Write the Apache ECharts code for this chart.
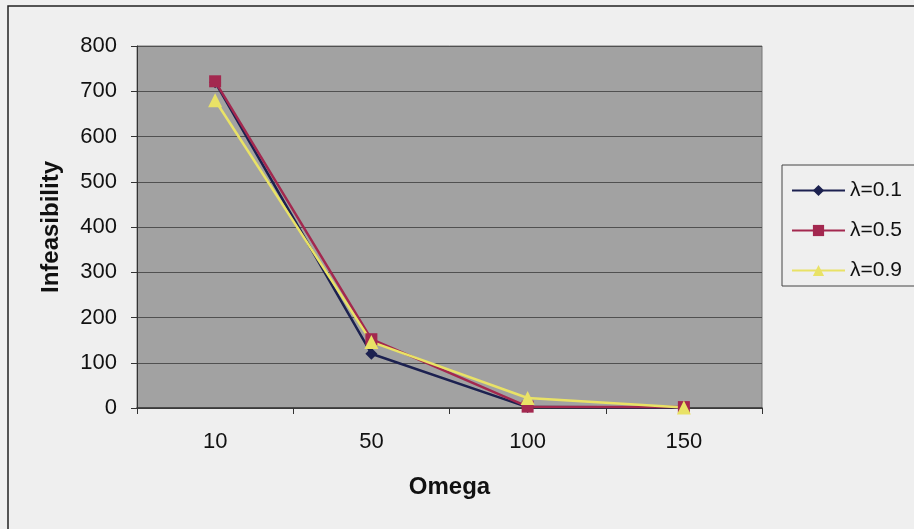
<!DOCTYPE html>
<html>
<head>
<meta charset="utf-8">
<script src="https://cdn.jsdelivr.net/npm/echarts@6/dist/echarts.min.js"></script>
<style>
  html, body { margin: 0; padding: 0; background: #efefef; }
  #chart { width: 914px; height: 529px; }
</style>
</head>
<body>
<div id="chart"></div>
<script>
// Omega settings on the horizontal axis
const omegaValues = ['10', '50', '100', '150'];
// Infeasibility per lambda setting
const seriesNames = ['λ=0.1', 'λ=0.5', 'λ=0.9'];
const lambda01 = [720, 120, 2, 1];
const lambda05 = [722, 152, 3, 2];
const lambda09 = [680, 146, 22, 1];
const yTicks = { min: 0, max: 800, step: 100 };

const chart = echarts.init(document.getElementById('chart'));
const font = '"Liberation Sans", Arial, sans-serif';

function lineSeries(name, data, color, symbol, size) {
  return {
    name: name,
    type: 'line',
    data: data,
    symbol: symbol,
    symbolSize: size,
    lineStyle: { color: color, width: 2.5 },
    itemStyle: { color: color },
    animation: false
  };
}

chart.setOption({
  backgroundColor: '#efefef',
  textStyle: { fontFamily: font },
  graphic: [
    {
      // outer chart frame
      type: 'rect',
      shape: { x: 8, y: 6, width: 920, height: 540 },
      style: { fill: 'none', stroke: '#222', lineWidth: 1.5 },
      silent: true
    },
    {
      // legend frame
      type: 'rect',
      shape: { x: 782, y: 165, width: 150, height: 121 },
      style: { fill: '#efefef', stroke: '#444', lineWidth: 1 },
      silent: true,
      z: 1
    }
  ],
  grid: {
    left: 137, right: 152, top: 46, bottom: 121,
    show: true,
    backgroundColor: '#a2a2a2',
    borderColor: '#777',
    borderWidth: 1
  },
  legend: {
    orient: 'vertical',
    left: 782, top: 165,
    padding: [15, 8, 8, 9],
    itemGap: 19,
    itemWidth: 53,
    itemHeight: 14,
    z: 5,
    textStyle: { fontFamily: font, fontSize: 21, color: '#111' },
    data: seriesNames
  },
  xAxis: {
    type: 'category',
    data: omegaValues,
    boundaryGap: true,
    name: 'Omega',
    nameLocation: 'middle',
    nameGap: 67,
    nameTextStyle: { fontFamily: font, fontSize: 24, fontWeight: 'bold', color: '#111' },
    axisLine: { lineStyle: { color: '#333', width: 1.5 } },
    axisTick: { show: true, length: 6, lineStyle: { color: '#333' } },
    axisLabel: { fontFamily: font, fontSize: 22, color: '#111', margin: 23 },
    splitLine: { show: false }
  },
  yAxis: {
    type: 'value',
    min: yTicks.min, max: yTicks.max, interval: yTicks.step,
    name: 'Infeasibility',
    nameLocation: 'middle',
    nameGap: 74,
    nameTextStyle: { fontFamily: font, fontSize: 24, fontWeight: 'bold', color: '#111' },
    axisLine: { show: true, lineStyle: { color: '#333', width: 1 } },
    axisTick: { show: true, length: 6, inside: false, lineStyle: { color: '#333' } },
    axisLabel: { fontFamily: font, fontSize: 22, color: '#111', margin: 20 },
    splitLine: { show: true, lineStyle: { color: '#505050', width: 1.2 } }
  },
  series: [
    lineSeries(seriesNames[0], lambda01, '#1c2150', 'diamond', 12),
    lineSeries(seriesNames[1], lambda05, '#a3284f', 'rect', 12),
    lineSeries(seriesNames[2], lambda09, '#e9e266', 'triangle', 14)
  ]
});
</script>
</body>
</html>
